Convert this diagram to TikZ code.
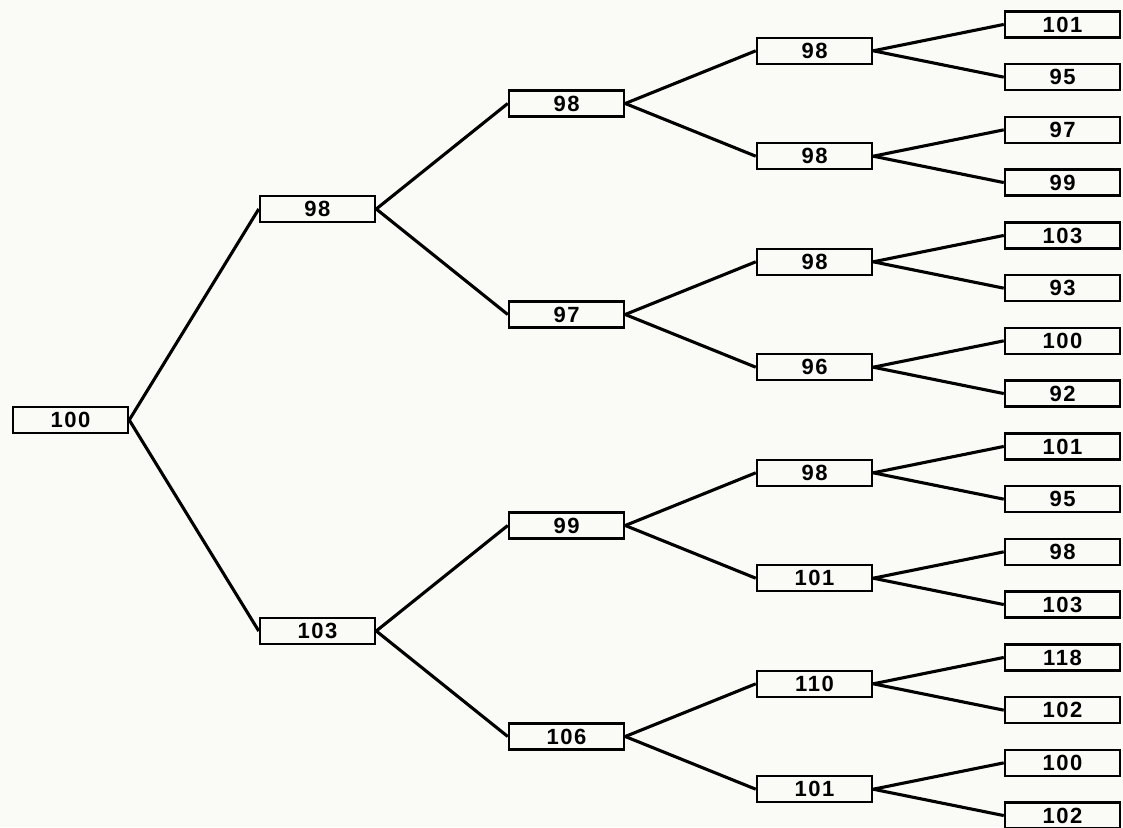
\documentclass[tikz,border=0pt]{standalone}
\usepackage{fontspec}
\setmainfont{Liberation Sans}
\newfontfamily\pricefont[LetterSpace=7]{Liberation Sans}
\usepackage{tikz}
\usetikzlibrary{positioning}
\definecolor{paper}{RGB}{250,250,246}

\begin{document}
\begin{tikzpicture}[
  x=1pt, y=-1pt,
  price/.style={rectangle, draw, line width=2.5pt, fill=paper, minimum width=115pt,
    minimum height=26pt, inner sep=0pt, font=\pricefont\fontsize{22}{22}\selectfont\bfseries},
  branch/.style={line width=3.1pt},
  on grid
  ]
  \fill[paper] (0,0) rectangle (1123,827);
  \useasboundingbox (0,0) rectangle (1123,827);
  % root and first step
  \node[price] (r) at (70.5,420) {100};
  \node[price, above right=211pt and 247pt of r] (ru) {98};
  \node[price, below right=211pt and 247pt of r] (rd) {103};
  % second step
  \node[price, above right=105.5pt and 249pt of ru] (ruu) {98};
  \node[price, below right=105.5pt and 249pt of ru] (rud) {97};
  \node[price, above right=105.5pt and 249pt of rd] (rdu) {99};
  \node[price, below right=105.5pt and 249pt of rd] (rdd) {106};
  % third step
  \node[price, above right=52.7pt and 248pt of ruu] (ruuu) {98};
  \node[price, below right=52.7pt and 248pt of ruu] (ruud) {98};
  \node[price, above right=52.7pt and 248pt of rud] (rudu) {98};
  \node[price, below right=52.7pt and 248pt of rud] (rudd) {96};
  \node[price, above right=52.7pt and 248pt of rdu] (rduu) {98};
  \node[price, below right=52.7pt and 248pt of rdu] (rdud) {101};
  \node[price, above right=52.7pt and 248pt of rdd] (rddu) {110};
  \node[price, below right=52.7pt and 248pt of rdd] (rddd) {101};
  % fourth step
  \node[price, above right=26.35pt and 248pt of ruuu] (ruuuu) {101};
  \node[price, below right=26.35pt and 248pt of ruuu] (ruuud) {95};
  \node[price, above right=26.35pt and 248pt of ruud] (ruudu) {97};
  \node[price, below right=26.35pt and 248pt of ruud] (ruudd) {99};
  \node[price, above right=26.35pt and 248pt of rudu] (ruduu) {103};
  \node[price, below right=26.35pt and 248pt of rudu] (rudud) {93};
  \node[price, above right=26.35pt and 248pt of rudd] (ruddu) {100};
  \node[price, below right=26.35pt and 248pt of rudd] (ruddd) {92};
  \node[price, above right=26.35pt and 248pt of rduu] (rduuu) {101};
  \node[price, below right=26.35pt and 248pt of rduu] (rduud) {95};
  \node[price, above right=26.35pt and 248pt of rdud] (rdudu) {98};
  \node[price, below right=26.35pt and 248pt of rdud] (rdudd) {103};
  \node[price, above right=26.35pt and 248pt of rddu] (rdduu) {118};
  \node[price, below right=26.35pt and 248pt of rddu] (rddud) {102};
  \node[price, above right=26.35pt and 248pt of rddd] (rdddu) {100};
  \node[price, below right=26.35pt and 248pt of rddd] (rdddd) {102};
  % branches
  \draw[branch] (r.east) -- (ru.west);
  \draw[branch] (r.east) -- (rd.west);
  \draw[branch] (ru.east) -- (ruu.west);
  \draw[branch] (ru.east) -- (rud.west);
  \draw[branch] (rd.east) -- (rdu.west);
  \draw[branch] (rd.east) -- (rdd.west);
  \draw[branch] (ruu.east) -- (ruuu.west);
  \draw[branch] (ruu.east) -- (ruud.west);
  \draw[branch] (rud.east) -- (rudu.west);
  \draw[branch] (rud.east) -- (rudd.west);
  \draw[branch] (rdu.east) -- (rduu.west);
  \draw[branch] (rdu.east) -- (rdud.west);
  \draw[branch] (rdd.east) -- (rddu.west);
  \draw[branch] (rdd.east) -- (rddd.west);
  \draw[branch] (ruuu.east) -- (ruuuu.west);
  \draw[branch] (ruuu.east) -- (ruuud.west);
  \draw[branch] (ruud.east) -- (ruudu.west);
  \draw[branch] (ruud.east) -- (ruudd.west);
  \draw[branch] (rudu.east) -- (ruduu.west);
  \draw[branch] (rudu.east) -- (rudud.west);
  \draw[branch] (rudd.east) -- (ruddu.west);
  \draw[branch] (rudd.east) -- (ruddd.west);
  \draw[branch] (rduu.east) -- (rduuu.west);
  \draw[branch] (rduu.east) -- (rduud.west);
  \draw[branch] (rdud.east) -- (rdudu.west);
  \draw[branch] (rdud.east) -- (rdudd.west);
  \draw[branch] (rddu.east) -- (rdduu.west);
  \draw[branch] (rddu.east) -- (rddud.west);
  \draw[branch] (rddd.east) -- (rdddu.west);
  \draw[branch] (rddd.east) -- (rdddd.west);
\end{tikzpicture}
\end{document}
